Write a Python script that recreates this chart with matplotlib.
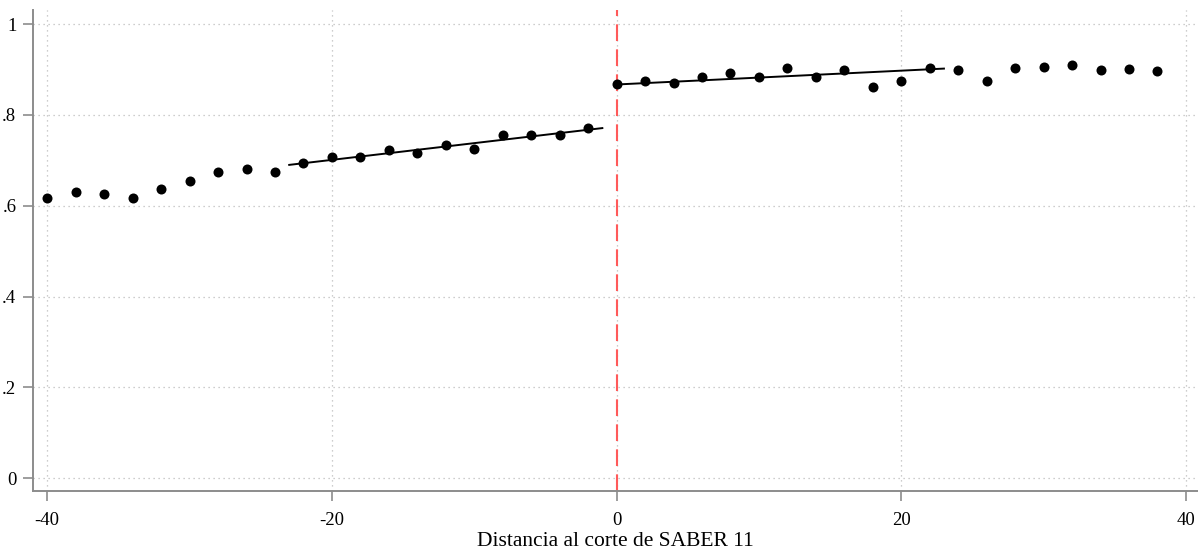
import matplotlib
matplotlib.use("Agg")
import matplotlib.pyplot as plt
import numpy as np

# Binned means
bin_x = list(range(-40, 40, 2))
bin_y = [0.618, 0.630, 0.625, 0.618, 0.638, 0.654, 0.674, 0.680, 0.674, 0.694,
         0.707, 0.707, 0.723, 0.717, 0.734, 0.724, 0.756, 0.756, 0.755, 0.771,
         0.867, 0.875, 0.870, 0.883, 0.892, 0.884, 0.903, 0.883, 0.898, 0.861,
         0.874, 0.903, 0.898, 0.875, 0.903, 0.906, 0.909, 0.900, 0.901, 0.896]

# Linear fit endpoints (left and right of cutoff)
fit_left_x = [-23.0, -1.0]
fit_left_y = [0.690, 0.771]
fit_right_x = [0.0, 23.0]
fit_right_y = [0.867, 0.902]

cutoff = 0
x_ticks = [-40, -20, 0, 20, 40]
y_ticks = [0, 0.2, 0.4, 0.6, 0.8, 1.0]
y_tick_labels = ["0", ".2", ".4", ".6", ".8", "1"]
x_label = "Distancia al corte de SABER 11"

plt.rcParams['font.family'] = ['Liberation Serif', 'DejaVu Serif']

fig = plt.figure(figsize=(11.98, 5.52), dpi=100)
ax = fig.add_axes([33/1198, 1 - 491/552, 1 - 33/1198, (491 - 10)/552])

ax.set_xlim(-41.0, 40.85)
ax.set_ylim(-0.028, 1.031)

ax.grid(True, linestyle=(0, (1, 3)), color='#bdbdbd', linewidth=0.9)
ax.set_axisbelow(True)

ax.scatter(bin_x, bin_y, s=52, color='black', zorder=3, linewidths=0)
ax.plot(fit_left_x, fit_left_y, color='black', lw=1.4, zorder=3)
ax.plot(fit_right_x, fit_right_y, color='black', lw=1.4, zorder=3)
ax.axvline(cutoff, color='#ff5a5a', lw=1.5, linestyle=(0, (8, 4)), zorder=2)

ax.set_xticks(x_ticks)
ax.set_xticklabels([str(t) for t in x_ticks])
ax.set_yticks(y_ticks)
ax.set_yticklabels(y_tick_labels)
ax.tick_params(axis='both', direction='out', length=7, width=1.2, color='#8c8c8c',
               labelsize=13.5)
ax.tick_params(axis='x', pad=8)
ax.tick_params(axis='y', pad=5)
for side in ['top', 'right']:
    ax.spines[side].set_visible(False)
for side in ['left', 'bottom']:
    ax.spines[side].set_color('#8c8c8c')
    ax.spines[side].set_linewidth(1.4)

ax.set_xlabel(x_label, fontsize=15.5, labelpad=2)

fig.savefig("out.png", dpi=100)
